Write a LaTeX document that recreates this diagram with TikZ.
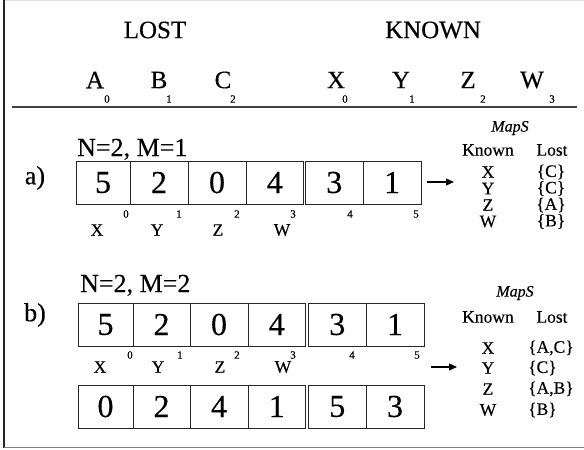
\documentclass[tikz,border=0pt]{standalone}
\usepackage{fontspec}
\setmainfont[FakeBold=0.35]{Liberation Serif}
\usetikzlibrary{arrows.meta}
\begin{document}
\begin{tikzpicture}[x=1pt,y=-1pt,
  hdr/.style={inner sep=0pt,font=\fontsize{25}{25}\selectfont},
  letter/.style={inner sep=0pt,font=\fontsize{25}{25}\selectfont},
  subl/.style={inner sep=0pt,font=\fontsize{11}{11}\selectfont},
  param/.style={inner sep=0pt,anchor=base west,font=\fontsize{26}{26}\selectfont},
  part/.style={inner sep=0pt,font=\fontsize{26}{26}\selectfont},
  cellbox/.style={draw=black!85,line width=0.9pt,inner sep=0pt,minimum height=43pt,font=\fontsize{32}{32}\selectfont},
  under/.style={inner sep=0pt,font=\fontsize{17.5}{17.5}\selectfont},
  tbl/.style={inner sep=0pt,font=\fontsize{17.5}{17.5}\selectfont},
  tblw/.style={inner sep=0pt,anchor=west,font=\fontsize{17.5}{17.5}\selectfont},
  mapsl/.style={inner sep=0pt,font=\fontsize{16}{16}\selectfont\itshape},
  arr/.style={line width=1.1pt,-{Triangle[length=8pt,width=7pt]}}
]
\useasboundingbox (0,0) rectangle (584,450);
% frame
\draw[gray!25,line width=0.8pt] (4,0.5) -- (584,0.5);
\draw[black!85,line width=1.3pt] (4,0) -- (4,447.5);
\draw[gray,line width=1.3pt] (4,447.5) -- (584,447.5);

% header
\node[hdr] (lost) at (155,30) {LOST};
\node[hdr] (known) at (433,30) {KNOWN};
\node[letter] (hA) at (95,80) {A};
\node[letter] (hB) at (159,80) {B};
\node[letter] (hC) at (223,80) {C};
\node[letter] (hX) at (336,80) {X};
\node[letter] (hY) at (401,80) {Y};
\node[letter] (hZ) at (468,80) {Z};
\node[letter] (hW) at (532,80) {W};
\node[subl] (sA) at (107,99) {0};
\node[subl] (sB) at (169,99) {1};
\node[subl] (sC) at (233,99) {2};
\node[subl] (sX) at (345,99) {0};
\node[subl] (sY) at (412,99) {1};
\node[subl] (sZ) at (483,99) {2};
\node[subl] (sW) at (552,99) {3};
\draw[black!75,line width=1.3pt] (12,107) -- (577,107);

% ---- a)
\node[param] (pa) at (77,156) {N=2, M=1};
\node[part] (la) at (35,178) {a)};
\node[cellbox,minimum width=54pt] (a1) at (103,182.5) {5};
\node[cellbox,minimum width=58pt] (a2) at (159,182.5) {2};
\node[cellbox,minimum width=58pt] (a3) at (217,182.5) {0};
\node[cellbox,minimum width=57.5pt] (a4) at (274.75,182.5) {4};
\node[cellbox,minimum width=57.5pt] (a5) at (334.25,182.5) {3};
\node[cellbox,minimum width=58pt] (a6) at (392,182.5) {1};
\node[subl] (ai0) at (126,214) {0};
\node[subl] (ai1) at (179,214) {1};
\node[subl] (ai2) at (237,214) {2};
\node[subl] (ai3) at (293,214) {3};
\node[subl] (ai4) at (350,214) {4};
\node[subl] (ai5) at (416,214) {5};
\node[under] (aX) at (97,230) {X};
\node[under] (aY) at (157,230) {Y};
\node[under] (aZ) at (218,230) {Z};
\node[under] (aW) at (282,230) {W};
\coordinate (aS) at (427,182);
\coordinate (aE) at (454,182);
\draw[arr] (aS) -- (aE);
\node[mapsl] (amaps) at (510,128) {MapS};
\node[tbl] (akn) at (488,150) {Known};
\node[tbl] (alo) at (552,150) {Lost};
\node[tbl] (ak1) at (488,172) {X};
\node[tbl] (ak2) at (488,188.5) {Y};
\node[tbl] (ak3) at (488,205) {Z};
\node[tbl] (ak4) at (488,221.5) {W};
\node[tbl] (al1) at (551,172) {\{C\}};
\node[tbl] (al2) at (551,188.5) {\{C\}};
\node[tbl] (al3) at (551,205) {\{A\}};
\node[tbl] (al4) at (551,221.5) {\{B\}};

% ---- b)
\node[param] (pb) at (80,292) {N=2, M=2};
\node[part] (lb) at (35,315) {b)};
\node[cellbox,minimum width=55pt] (b1) at (105.5,324.5) {5};
\node[cellbox,minimum width=57pt] (b2) at (161.5,324.5) {2};
\node[cellbox,minimum width=58pt] (b3) at (219,324.5) {0};
\node[cellbox,minimum width=57.5pt] (b4) at (276.75,324.5) {4};
\node[cellbox,minimum width=57.5pt] (b5) at (337.25,324.5) {3};
\node[cellbox,minimum width=58pt] (b6) at (395,324.5) {1};
\node[subl] (bi0) at (130,355) {0};
\node[subl] (bi1) at (180,355) {1};
\node[subl] (bi2) at (237,355) {2};
\node[subl] (bi3) at (293,355) {3};
\node[subl] (bi4) at (352,355) {4};
\node[subl] (bi5) at (417,355) {5};
\node[under] (bX) at (100,367) {X};
\node[under] (bY) at (158,367) {Y};
\node[under] (bZ) at (220,367) {Z};
\node[under] (bW) at (283,367) {W};
\node[cellbox,minimum width=55pt] (c1) at (105.5,406.5) {0};
\node[cellbox,minimum width=57pt] (c2) at (161.5,406.5) {2};
\node[cellbox,minimum width=58pt] (c3) at (219,406.5) {4};
\node[cellbox,minimum width=57.5pt] (c4) at (276.75,406.5) {1};
\node[cellbox,minimum width=57.5pt] (c5) at (337.25,406.5) {5};
\node[cellbox,minimum width=58pt] (c6) at (395,406.5) {3};
\coordinate (bS) at (431,367);
\coordinate (bE) at (457,367);
\draw[arr] (bS) -- (bE);
\node[mapsl] (bmaps) at (515,293) {MapS};
\node[tbl] (bkn) at (488,317) {Known};
\node[tbl] (blo) at (552,317) {Lost};
\node[tbl] (bk1) at (488,348) {X};
\node[tbl] (bk2) at (488,368) {Y};
\node[tbl] (bk3) at (488,389) {Z};
\node[tbl] (bk4) at (488,410) {W};
\node[tblw] (bl1) at (528,348) {\{A,C\}};
\node[tblw] (bl2) at (528,368) {\{C\}};
\node[tblw] (bl3) at (528,389) {\{A,B\}};
\node[tblw] (bl4) at (528,410) {\{B\}};
\end{tikzpicture}
\end{document}
